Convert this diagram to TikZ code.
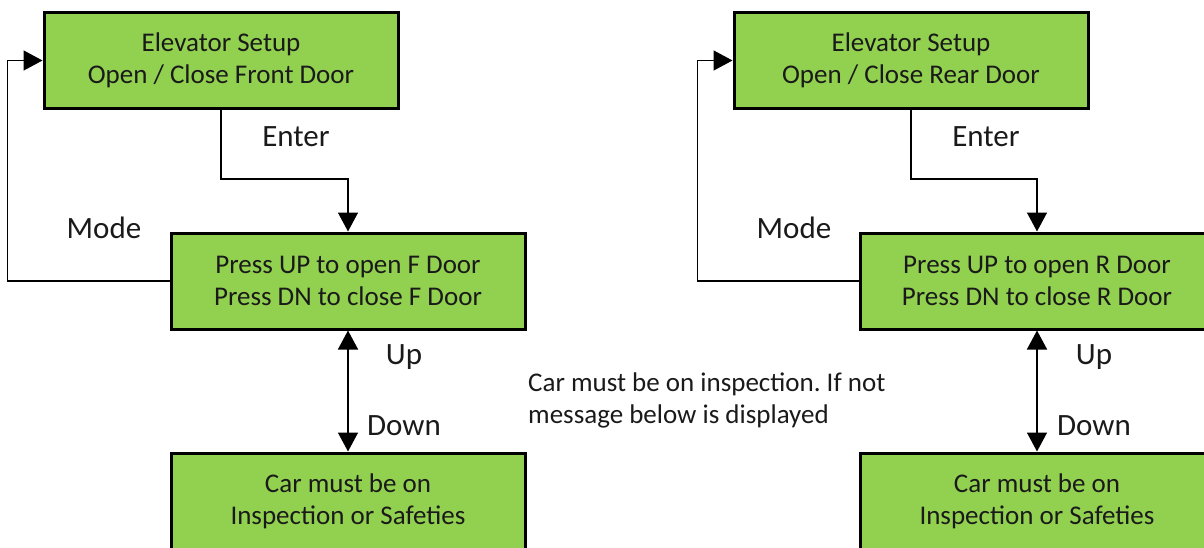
\documentclass[tikz,border=0pt]{standalone}
\usepackage{fontspec}
\setmainfont{Carlito}
\usetikzlibrary{arrows.meta}
\frenchspacing
\definecolor{boxgreen}{HTML}{92D050}
\definecolor{ink}{HTML}{1A1A1A}
\tikzset{
  box/.style={draw=black, line width=3pt, fill=boxgreen, minimum width=354pt, minimum height=96pt, inner sep=0pt, align=center, text=ink, font=\fontsize{27}{32}\selectfont},
  conn/.style={draw=black, line width=1.5pt},
  tip/.style={-{Triangle[width=20pt,length=19pt]}},
  twotip/.style={{Triangle[width=20pt,length=19pt]}-{Triangle[width=20pt,length=19pt]}},
  lbl/.style={text=ink, font=\fontsize{31}{32}\selectfont, inner sep=0pt},
  note/.style={text=ink, font=\fontsize{27}{32}\selectfont, inner sep=0pt, align=left, anchor=west}
}
\begin{document}
\begin{tikzpicture}[x=1pt,y=-1pt]
\clip (0,0) rectangle (1204,548);
% left column
\node[box] (A) at (221,60.5) {Elevator Setup\\Open / Close Front Door};
\node[box] (B) at (348,281) {Press UP to open F Door\\Press DN to close F Door};
\node[box] (C) at (348,501) {Car must be on\\Inspection or Safeties};
% right column
\node[box] (D) at (911,60.5) {Elevator Setup\\Open / Close Rear Door};
\node[box] (E) at (1037,281) {Press UP to open R Door\\Press DN to close R Door};
\node[box] (F) at (1037,501) {Car must be on\\Inspection or Safeties};
% connectors left
\draw[conn,tip] (A.south) -- ++(0,69) -| (B.north);
\draw[conn,tip] (B.west) -- ++(-162,0) |- (A.west);
\draw[conn,twotip] (B.south) -- (C.north);
% connectors right
\draw[conn,tip] (D.south) -- ++(0,69) -| (E.north);
\draw[conn,tip] (E.west) -- ++(-161,0) |- (D.west);
\draw[conn,twotip] (E.south) -- (F.north);
% labels
\node[lbl] (enterL) at (296,137) {Enter};
\node[lbl] (modeL) at (104,228) {Mode};
\node[lbl] (upL) at (404,357) {Up};
\node[lbl] (downL) at (404,426) {Down};
\node[lbl] (enterR) at (986,137) {Enter};
\node[lbl] (modeR) at (794,228) {Mode};
\node[lbl] (upR) at (1094,357) {Up};
\node[lbl] (downR) at (1094,426) {Down};
\node[note] (msg) at (528,400) {Car must be on inspection. If not\\message below is displayed};
\end{tikzpicture}
\end{document}
